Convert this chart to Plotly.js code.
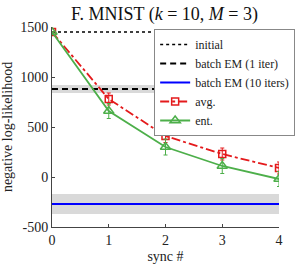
<!DOCTYPE html>
<html><head><meta charset="utf-8">
<script src="https://cdn.plot.ly/plotly-3.0.1.min.js"></script>
<style>html,body{margin:0;padding:0;background:#fff}#c{width:299px;height:268px}</style>
</head><body><div id="c"></div>
<script>
var syncs = [0, 1, 2, 3, 4];
var avgVals = [1450, 780, 410, 230, 90];
var avgErr = [0, 60, 65, 60, 60];
var entVals = [1450, 660, 300, 110, -20];
var entErr = [0, 75, 80, 75, 75];
var initialVal = 1450;
var batch1Val = 880;
var batch1Band = [840, 920];
var batch10Val = -270;
var batch10Band = [-370, -170];
var xSpan = [0, 4];
var yTicks = [-500, 0, 500, 1000, 1500];

var serif = "Liberation Serif, DejaVu Serif, serif";
function band(b) {
  return {x: [xSpan[0], xSpan[1], xSpan[1], xSpan[0], xSpan[0]], y: [b[0], b[0], b[1], b[1], b[0]],
    fill: 'toself', fillcolor: '#d9d9d9', line: {width: 0}, mode: 'lines', showlegend: false, hoverinfo: 'skip'};
}
var traces = [
  band(batch1Band), band(batch10Band),
  {x: xSpan, y: [initialVal, initialVal], mode: 'lines', name: 'initial', line: {color: '#000', dash: 'dot', width: 1.5}},
  {x: xSpan, y: [batch1Val, batch1Val], mode: 'lines', name: 'batch EM (1 iter)', line: {color: '#000', dash: '6px,4px', width: 2}},
  {x: xSpan, y: [batch10Val, batch10Val], mode: 'lines', name: 'batch EM (10 iters)', line: {color: '#0000ff', width: 2}},
  {x: syncs, y: avgVals, mode: 'lines+markers', name: 'avg.',
   line: {color: '#e41a1c', dash: 'dashdot', width: 1.8},
   marker: {symbol: 'square-open', size: 7, color: '#e41a1c', line: {width: 1.5}},
   error_y: {type: 'data', array: avgErr, visible: true, color: '#e41a1c', thickness: 1, width: 2}},
  {x: syncs, y: entVals, mode: 'lines+markers', name: 'ent.',
   line: {color: '#4daf4a', width: 1.8},
   marker: {symbol: 'triangle-up-open', size: 9, color: '#4daf4a', line: {width: 1.5}},
   error_y: {type: 'data', array: entErr, visible: true, color: '#4daf4a', thickness: 1, width: 2}}
];
var layout = {
  width: 299, height: 268,
  margin: {l: 52, r: 4, t: 27, b: 41},
  paper_bgcolor: '#fff', plot_bgcolor: '#fff',
  font: {family: serif, color: '#222', size: 13},
  title: {text: 'F. MNIST (<i>k</i> = 10, <i>M</i> = 3)', font: {family: serif, size: 18, color: '#111'}, x: 0.55, xanchor: 'center', yref: 'container', y: 0.95, yanchor: 'middle'},
  xaxis: {range: xSpan, tickvals: syncs, ticks: 'inside', ticklen: 3, tickcolor: '#444', showgrid: false, zeroline: false,
    showline: true, linecolor: '#444', linewidth: 1, tickfont: {size: 14, family: serif},
    title: {text: 'sync #', font: {size: 14, family: serif}, standoff: 4}},
  yaxis: {range: [-500, 1500], tickvals: yTicks, ticktext: yTicks.map(String), ticks: 'inside', ticklen: 3, tickcolor: '#444',
    showgrid: false, zeroline: false, showline: true, linecolor: '#444', linewidth: 1, tickfont: {size: 14, family: serif},
    title: {text: 'negative log-likelihood', font: {size: 14, family: serif}, standoff: 6}},
  legend: {x: 0.45, y: 0.99, xanchor: 'left', yanchor: 'top', bgcolor: '#fff', bordercolor: '#888', borderwidth: 1,
    font: {size: 12, family: serif}, itemwidth: 30, tracegroupgap: 0, tracegroupgap: 0, valign: 'middle'},
  showlegend: true
};
Plotly.newPlot('c', traces, layout, {displayModeBar: false, staticPlot: true}).then(function(){
  // tighten legend row spacing
});
</script></body></html>
